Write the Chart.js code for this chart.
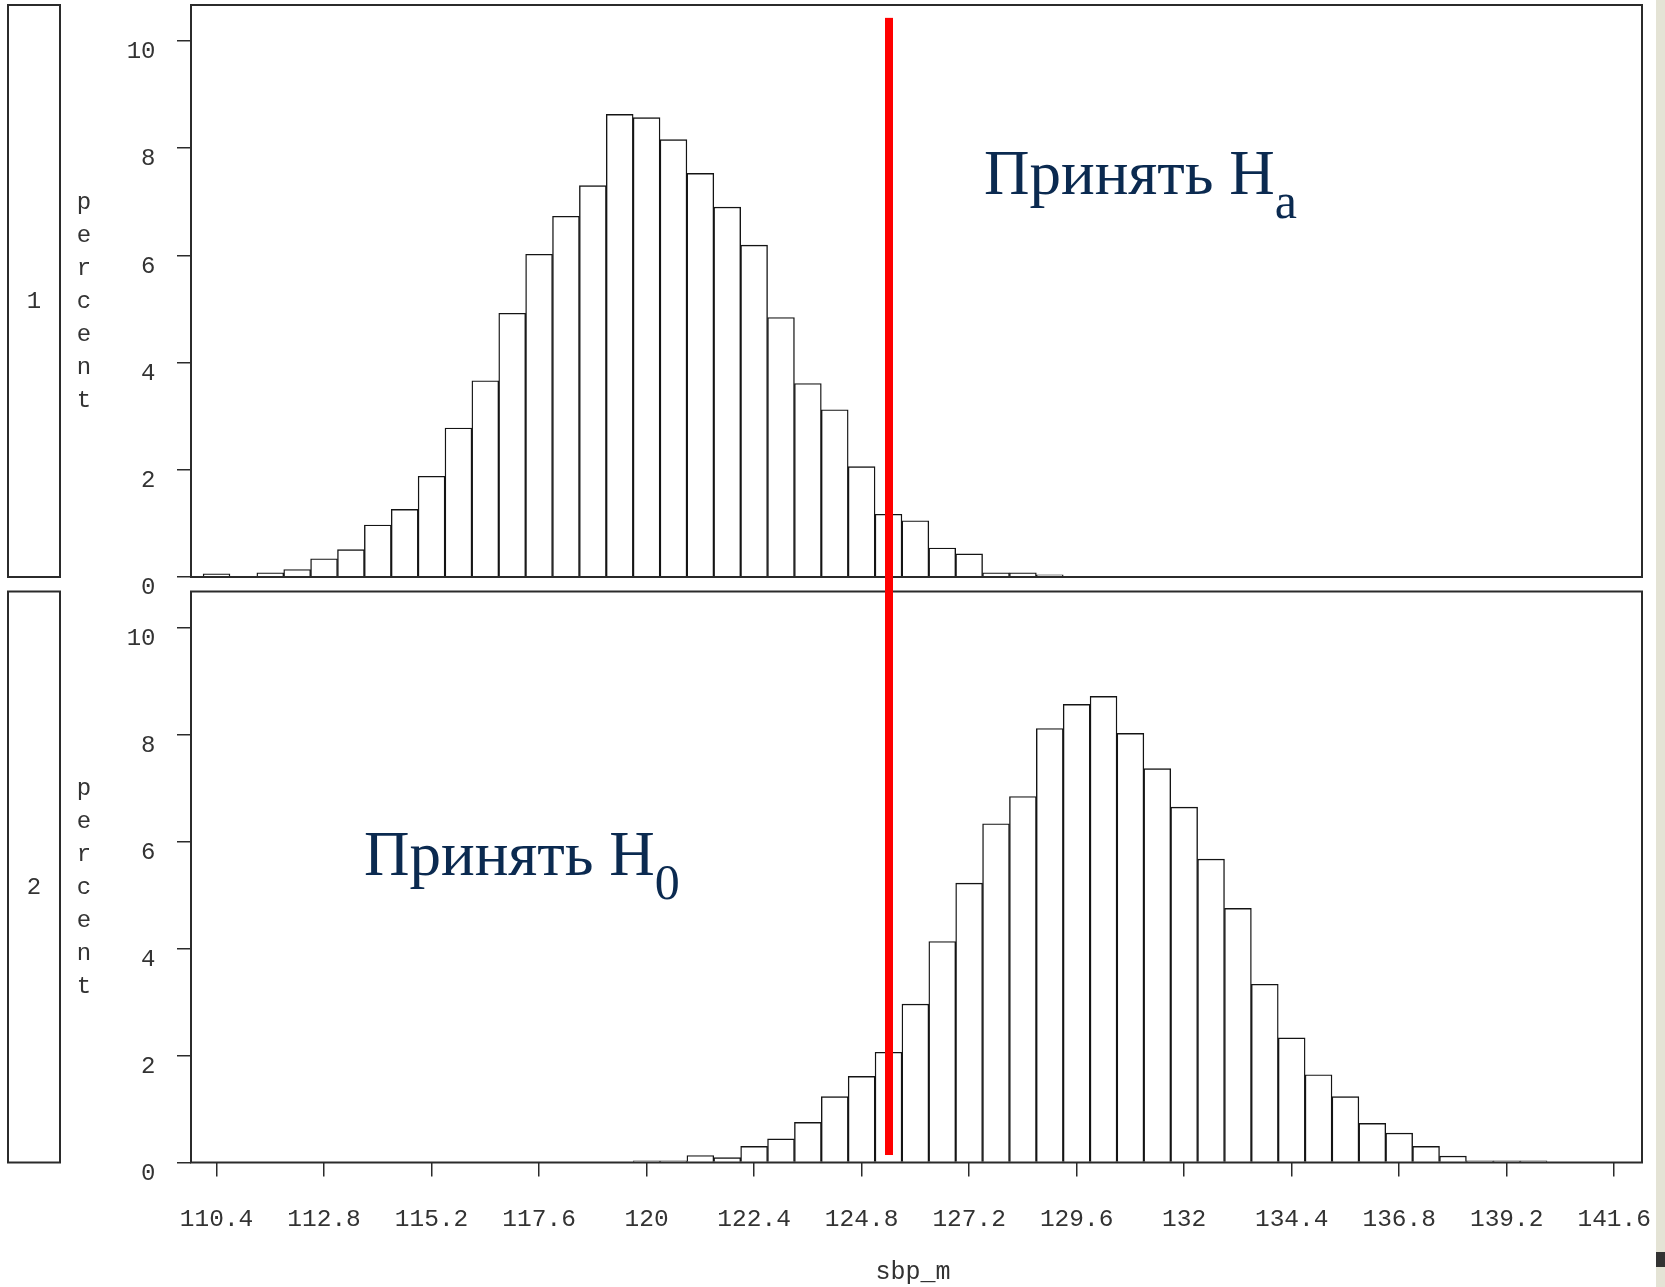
<!DOCTYPE html>
<html>
<head>
<meta charset="utf-8">
<script src="https://cdn.jsdelivr.net/npm/chart.js@4.4.1/dist/chart.umd.min.js"></script>
<style>
  html,body{margin:0;padding:0;background:#fff}
  body{width:1665px;height:1287px;position:relative;overflow:hidden}
  canvas{position:absolute;left:0}
  #top{top:0}
  #bot{top:585px}
  .edge{position:absolute;left:1656px;top:0;width:9px;height:1287px;background:#e4e3d5}
  .mark{position:absolute;left:1656px;top:1252px;width:9px;height:15px;background:#333}
</style>
</head>
<body>
<canvas id="top" width="1665" height="602"></canvas>
<canvas id="bot" width="1665" height="702"></canvas>
<div class="edge"></div><div class="mark"></div>
<script>
// sbp_m bin midpoints, bin width 0.6
const bins = [
  110.4, 111.0, 111.6, 112.2, 112.8, 113.4, 114.0, 114.6, 115.2, 115.8,
  116.4, 117.0, 117.6, 118.2, 118.8, 119.4, 120.0, 120.6, 121.2, 121.8,
  122.4, 123.0, 123.6, 124.2, 124.8, 125.4, 126.0, 126.6, 127.2, 127.8,
  128.4, 129.0, 129.6, 130.2, 130.8, 131.4, 132.0, 132.6, 133.2, 133.8,
  134.4, 135.0, 135.6, 136.2, 136.8, 137.4, 138.0, 138.6, 139.2, 139.8
]
// percent per bin, group 1
const pctGroup1 = [
  0.06, 0, 0.08, 0.14, 0.34, 0.51, 0.97, 1.26, 1.88, 2.78,
  3.66, 4.92, 6.02, 6.73, 7.30, 8.63, 8.57, 8.16, 7.53, 6.90,
  6.19, 4.84, 3.61, 3.12, 2.06, 1.17, 1.05, 0.54, 0.43, 0.08,
  0.08, 0.04, 0.01, 0.01, 0.01, 0, 0, 0, 0, 0,
  0, 0, 0, 0, 0, 0, 0, 0, 0, 0
]
// percent per bin, group 2
const pctGroup2 = [
  0, 0, 0, 0, 0, 0, 0, 0, 0, 0,
  0, 0, 0, 0, 0, 0, 0.03, 0.03, 0.13, 0.09,
  0.30, 0.44, 0.75, 1.23, 1.61, 2.06, 2.96, 4.13, 5.22, 6.33,
  6.84, 8.11, 8.56, 8.71, 8.02, 7.36, 6.64, 5.67, 4.75, 3.33,
  2.33, 1.64, 1.23, 0.73, 0.55, 0.30, 0.12, 0.03, 0.03, 0.03
]
const xTicks = [110.4, 112.8, 115.2, 117.6, 120, 122.4, 124.8, 127.2, 129.6, 132, 134.4, 136.8, 139.2, 141.6]
const yTicks = [0, 2, 4, 6, 8, 10]
const critValue = 125.4

const mono = '"Liberation Mono", "DejaVu Sans Mono", monospace'
const serif = '"Liberation Serif", "DejaVu Serif", serif'
const ink = '#2b2b2b'

// frame, group strip, vertical "percent", caption and the critical value line
const panelDecor = {
  id: 'panelDecor',
  afterDatasetsDraw(chart, args, o){
    const { ctx, chartArea: a, scales: { x, y } } = chart
    ctx.save()
    ctx.strokeStyle = ink; ctx.lineWidth = 2
    ctx.strokeRect(a.left, a.top, a.right - a.left, a.bottom - a.top)
    ctx.strokeRect(8, a.top, 52, a.bottom - a.top)

    ctx.fillStyle = '#333'
    ctx.font = '24px ' + mono
    ctx.textAlign = 'center'; ctx.textBaseline = 'middle'
    const mid = (a.top + a.bottom) / 2 + 11
    ctx.fillText(o.group, 34, mid)
    'percent'.split('').forEach((ch, i)=> ctx.fillText(ch, 84, mid + (i - 3) * 33))

    ctx.fillStyle = '#0b2a50'
    ctx.textAlign = 'left'; ctx.textBaseline = 'alphabetic'
    ctx.font = '63px ' + serif
    const tx = x.getPixelForValue(o.capX), ty = y.getPixelForValue(o.capY)
    ctx.fillText(o.caption, tx, ty)
    const w = ctx.measureText(o.caption).width
    ctx.font = '50px ' + serif
    ctx.fillText(o.sub, tx + w, ty + 24)

    const xp = Math.round(x.getPixelForValue(critValue))
    const y0 = o.lineFrom === null ? 0 : y.getPixelForValue(o.lineFrom)
    const y1 = o.lineTo === null ? chart.height : y.getPixelForValue(o.lineTo)
    ctx.fillStyle = '#ff0000'
    ctx.fillRect(xp - 4, y0, 8, y1 - y0)
    ctx.restore()
  }
}

function makeChart(id, values, deco, showX, padding){
  return new Chart(document.getElementById(id), {
    type: 'bar',
    data: {
      datasets: [{
        data: bins.map((b, i)=> ({ x: b, y: values[i] })),
        backgroundColor: '#fff', borderColor: '#141414', borderWidth: 1.4,
        barPercentage: 1, categoryPercentage: 1, grouped: false
      }]
    },
    options: {
      responsive: false, animation: false, devicePixelRatio: 1,
      layout: { padding },
      plugins: { legend: { display: false }, tooltip: { enabled: false }, panelDecor: deco },
      scales: {
        x: {
          type: 'linear', min: 109.83, max: 142.22, offset: false, display: showX,
          afterBuildTicks: s=>{ s.ticks = xTicks.map(v=> ({ value: v })) },
          afterFit: s=>{ if(showX) s.height = 124.5; s.paddingLeft = 0; s.paddingRight = 0 },
          border: { display: false },
          grid: { offset: false, drawOnChartArea: false, drawTicks: true, tickLength: 14, color: ink, lineWidth: 1.5 },
          ticks: { autoSkip: false, maxRotation: 0, padding: 28, color: '#333', font: { family: mono, size: 24.5 }, callback: v=> String(+v.toFixed(1)) }
        },
        y: {
          min: 0, max: 10.67,
          afterBuildTicks: s=>{ s.ticks = yTicks.map(v=> ({ value: v })) },
          afterFit: s=>{ s.width = 191; s.paddingTop = 0; s.paddingBottom = 0 },
          border: { display: false },
          grid: { drawOnChartArea: false, drawTicks: true, tickLength: 14, color: ink, lineWidth: 1.5 },
          ticks: { padding: 21.5, labelOffset: 11, color: '#333', font: { family: mono, size: 24 } }
        }
      }
    },
    plugins: [panelDecor]
  })
}

makeChart('top', pctGroup1,
  { group: '1', caption: 'Принять H', sub: 'a', capX: 127.53, capY: 7.15, lineFrom: 10.43, lineTo: null },
  false, { top: 5, right: 23, bottom: 25, left: 0 })

const bottom = makeChart('bot', pctGroup2,
  { group: '2', caption: 'Принять H', sub: '0', capX: 113.69, capY: 5.38, lineFrom: null, lineTo: 0.14 },
  true, { top: 6.5, right: 23, bottom: 0, left: 0 })

// axis name under the lower panel
;(function(){
  const ctx = bottom.ctx
  ctx.save()
  ctx.fillStyle = '#333'; ctx.font = '25px ' + mono
  ctx.textAlign = 'center'; ctx.textBaseline = 'middle'
  ctx.fillText('sbp_m', 913, 1272 - 585)
  ctx.restore()
})()
</script>
</body>
</html>
